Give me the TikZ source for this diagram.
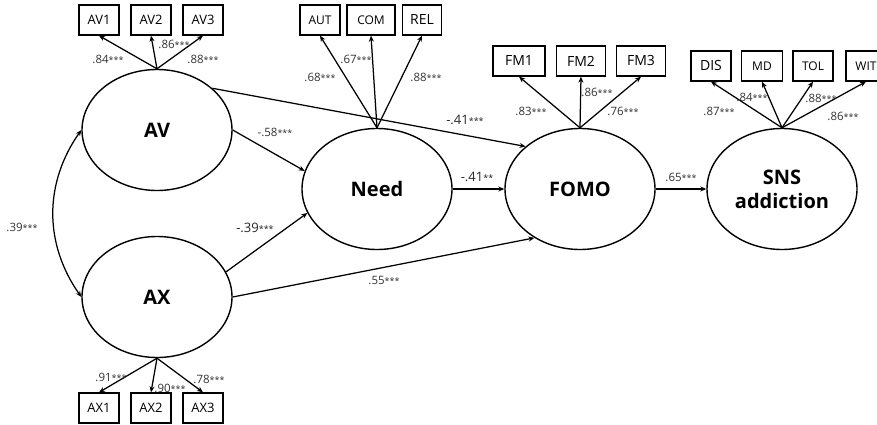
\documentclass[tikz,border=0pt]{standalone}
\usepackage{fontspec}
\setmainfont{Open Sans}
\usetikzlibrary{shapes.geometric,arrows.meta}
\tikzset{lat/.style={ellipse,draw,line width=1.4pt,minimum width=150pt,minimum height=121pt,inner sep=0pt,align=center,font=\fontsize{20}{24}\selectfont\bfseries},
obs/.style={rectangle,draw,line width=1.3pt,minimum width=40pt,minimum height=30pt,inner sep=0pt,font=\fontsize{13}{13}\selectfont},
est/.style={inner sep=0pt,text=black!80,font=\fontsize{11.5}{11.5}\selectfont},
coef/.style={inner sep=0pt,text=black!85,font=\fontsize{13}{13}\selectfont}}
\newcommand{\stars}[1]{{\fontsize{9}{9}\selectfont #1}}

\begin{document}
\begin{tikzpicture}[x=1pt,y=-1pt,>={Stealth[length=6pt,width=5pt]},line width=1.25pt]
        \useasboundingbox (0,0) rectangle (877,425);
        % latent variables
        \node[lat] (av) at (157,130) {AV};
        \node[lat] (ax) at (157,297) {AX};
        \node[lat] (need) at (377,189) {Need};
        \node[lat] (fomo) at (580,189) {FOMO};
        \node[lat] (sns) at (782,189) {SNS\\addiction};

        % observed variables
        \node[obs] (av1) at (99,20) {AV1};
        \node[obs] (av2) at (151,20) {AV2};
        \node[obs] (av3) at (203,20) {AV3};
        \node[obs,font=\fontsize{12}{12}\selectfont] (aut) at (320,20) {AUT};
        \node[obs,minimum width=48pt,font=\fontsize{12}{12}\selectfont] (com) at (371,20) {COM};
        \node[obs,minimum width=39pt,font=\fontsize{14}{14}\selectfont] (rel) at (422,20) {REL};
        \node[obs,minimum width=52pt,font=\fontsize{14}{14}\selectfont] (fm1) at (519,61) {FM1};
        \node[obs,minimum width=49pt,font=\fontsize{14}{14}\selectfont] (fm2) at (581,61) {FM2};
        \node[obs,minimum width=49pt,font=\fontsize{14}{14}\selectfont] (fm3) at (641,61) {FM3};
        \node[obs,font=\fontsize{14}{14}\selectfont] (dis) at (711,66) {DIS};
        \node[obs,minimum width=41pt,font=\fontsize{12}{12}\selectfont] (md) at (762,66) {MD};
        \node[obs,font=\fontsize{12}{12}\selectfont] (tol) at (813,66) {TOL};
        \node[obs,font=\fontsize{12}{12}\selectfont] (wit) at (866,66) {WIT};
        \node[obs] (ax1) at (99,408) {AX1};
        \node[obs] (ax2) at (151,408) {AX2};
        \node[obs] (ax3) at (203,408) {AX3};

        % loadings
        \foreach \i in {av1,av2,av3} \draw[->] (av.north) -- (\i.south);
        \foreach \i in {aut,com,rel} \draw[->] (need.north) -- (\i.south);
        \foreach \i in {fm1,fm2,fm3} \draw[->] (fomo.north) -- (\i.south);
        \foreach \i in {dis,md,tol,wit} \draw[->] (sns.north) -- (\i.south);
        \foreach \i in {ax1,ax2,ax3} \draw[->] (ax.south) -- (\i.north);

        % structural paths
        \draw[->] (av.37) -- (fomo.142);
        \draw[->] (av.east) -- (need.166);
        \draw[->] (ax.20) -- (need.199);
        \draw[->] (ax.east) -- (fomo.227);
        \draw[->] (need) -- (fomo);
        \draw[->] (fomo) -- (sns);
        \draw[<->] (av.west) to[bend right=35] (ax.west);

        % estimates
        \node[est] (lav1) at (108,59) {.84\stars{***}};
        \node[est] (lav2) at (174,44) {.86\stars{***}};
        \node[est] (lav3) at (203,59) {.88\stars{***}};
        \node[est] (laut) at (320,77) {.68\stars{***}};
        \node[est] (lcom) at (356,59) {.67\stars{***}};
        \node[est] (lrel) at (426,77) {.88\stars{***}};
        \node[est] (lfm1) at (531,111) {.83\stars{***}};
        \node[est] (lfm2) at (597,92) {.86\stars{***}};
        \node[est] (lfm3) at (623,111) {.76\stars{***}};
        \node[est] (ldis) at (719,111) {.87\stars{***}};
        \node[est] (lmd) at (752,97) {.84\stars{***}};
        \node[est] (ltol) at (821,98) {.88\stars{***}};
        \node[est] (lwit) at (843,116) {.86\stars{***}};
        \node[est] (lax1) at (111,377) {.91\stars{***}};
        \node[est] (lax2) at (170,388) {.90\stars{***}};
        \node[est] (lax3) at (209,379) {.78\stars{***}};
        \node[est] (lcov) at (22,227) {.39\stars{***}};
        \node[est] (lavn) at (275,132) {-.58\stars{***}};
        \node[coef] (lavf) at (465,120) {-.41\stars{***}};
        \node[coef] (laxn) at (255,228) {-.39\stars{***}};
        \node[est] (laxf) at (384,280) {.55\stars{***}};
        \node[coef] (lnf) at (477,177) {-.41\stars{**}};
        \node[est] (lfs) at (681,177) {.65\stars{***}};
    \end{tikzpicture}
\end{document}
